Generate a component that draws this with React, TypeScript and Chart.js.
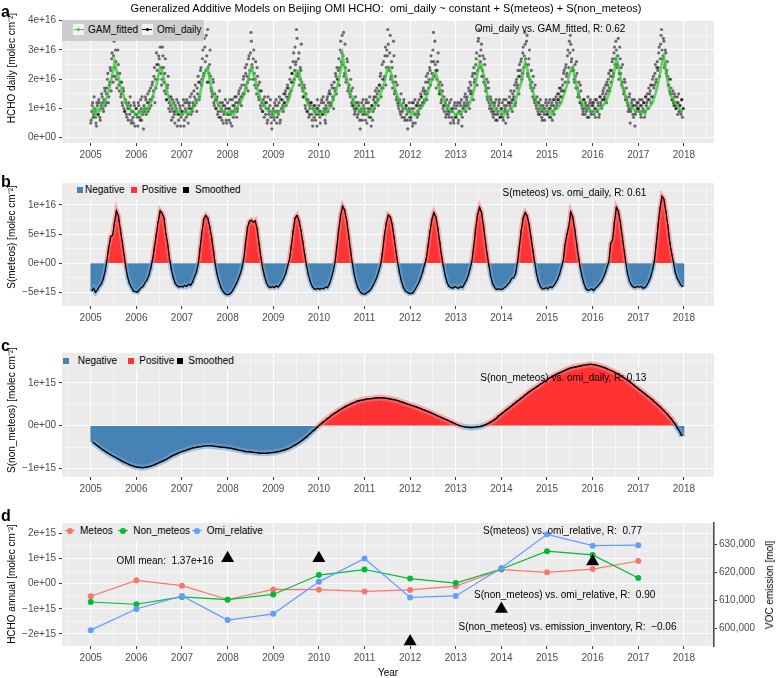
import React, { useEffect, useRef } from "react";
import { Chart, registerables } from "chart.js";
Chart.register(...registerables);

const FONT = '"Liberation Sans", Arial, Helvetica, sans-serif';

// ---------- shared axis data ----------
const years = [2005, 2006, 2007, 2008, 2009, 2010, 2011, 2012, 2013, 2014, 2015, 2016, 2017];
const xTickYears = [2005, 2006, 2007, 2008, 2009, 2010, 2011, 2012, 2013, 2014, 2015, 2016, 2017, 2018];
const xMinorTicks = [2004.5, 2005.5, 2006.5, 2007.5, 2008.5, 2009.5, 2010.5, 2011.5, 2012.5, 2013.5, 2014.5, 2015.5, 2016.5, 2017.5, 2018.5];

// ---------- panel a (units of 1e15 molec cm-2) ----------
// Omi_daily: two interleaved sets of 48 samples per year
const omiDaily = [
  [6,11,7,14, 9,5,12,8, 13,7,10,15, 12,9,17,11, 15,20,12,18, 24,16,29,19, 33,21,26,17, 30,18,22,14, 19,11,16,9, 13,8,11,6, 10,14,5,9, 7,12,4,10],
  [8,4,11,7, 13,6,9,3, 10,14,8,12, 9,16,13,11, 18,14,21,12, 17,25,20,28, 35,22,18,31, 24,16,27,13, 17,21,12,9, 14,10,7,12, 5,9,13,8, 6,11,4,9],
  [9,13,6,10, 7,12,5,11, 14,8,10,12, 16,11,13,9, 15,19,14,23, 18,27,21,34, 26,35,19,24, 22,30,17,14, 20,12,15,10, 13,8,11,16, 7,10,12,5, 9,13,6,8],
  [10,6,13,8, 4,11,9,14, 12,7,10,15, 13,17,11,14, 20,15,24,17, 21,16,28,23, 36,25,20,30, 18,26,15,21, 14,19,11,16, 9,13,7,12, 10,5,14,8, 11,7,3,9],
  [7,12,9,5, 11,8,14,6, 10,13,9,12, 15,11,17,13, 14,20,16,22, 19,29,23,25, 37,21,27,18, 24,32,17,14, 18,11,15,9, 13,7,10,12, 8,4,11,9, 6,10,13,8],
  [9,5,12,8, 14,10,6,11, 13,9,15,11, 12,18,14,10, 17,22,15,20, 23,18,30,26, 35,28,21,32, 19,27,16,23, 15,20,12,17, 11,8,14,10, 7,12,9,3, 10,6,13,9],
  [8,12,5,10, 9,14,7,11, 6,13,10,16, 12,15,11,18, 21,14,25,17, 20,28,18,30, 37,24,29,20, 26,17,33,15, 21,13,18,11, 12,9,15,7, 10,13,6,11, 8,3,10,7],
  [6,10,4,12, 8,5,11,7, 9,13,10,14, 11,16,12,15, 19,13,22,17, 24,18,26,20, 36,21,25,17, 23,29,15,19, 12,18,10,14, 11,7,13,9, 8,12,5,10, 9,6,11,7],
  [7,11,5,9, 12,8,4,10, 11,14,9,13, 12,17,10,15, 16,21,13,19, 22,27,18,33, 37,24,30,21, 28,19,25,16, 20,13,17,10, 14,9,12,7, 11,8,13,6, 9,12,7,10],
  [10,7,13,9, 5,11,8,12, 14,10,12,9, 13,16,11,19, 17,23,15,21, 26,20,29,24, 36,27,33,22, 25,30,18,23, 16,21,13,18, 11,14,9,12, 8,11,7,10, 9,6,12,8],
  [9,12,7,10, 11,6,13,8, 10,14,11,13, 15,12,17,14, 18,22,16,24, 21,28,19,33, 35,26,23,30, 20,25,17,22, 14,19,12,16, 11,8,13,10, 12,9,7,11, 10,13,8,12],
  [11,8,13,10, 9,12,7,14, 12,10,15,13, 14,18,12,16, 20,17,23,19, 26,21,29,25, 33,24,28,20, 31,22,18,25, 15,20,13,17, 12,9,14,5, 10,13,8,11, 4,9,12,10],
  [10,13,8,11, 9,12,7,14, 11,15,10,13, 16,12,18,14, 17,22,19,24, 23,29,21,32, 37,27,34,24, 30,22,26,18, 20,15,17,13, 16,11,14,10, 12,8,15,11, 9,13,7,10],
];
const omiDailyB = [
  [5,9,12,8, 10,7,4,11, 8,12,6,11, 14,10,13,16, 12,17,22,14, 19,23,27,21, 28,24,30,20, 22,25,16,19, 15,12,17,10, 9,12,7,10, 12,8,11,6, 9,5,11,8],
  [10,7,12,9, 6,10,14,8, 11,9,13,10, 15,12,10,17, 13,19,16,24, 20,29,23,25, 27,31,24,20, 28,19,22,15, 13,18,10,14, 11,6,13,9, 8,11,10,4, 12,8,10,7],
  [8,11,4,12, 9,13,8,10, 12,10,15,9, 11,14,18,12, 17,21,13,19, 24,20,30,22, 31,23,28,37, 19,25,21,16, 15,19,11,13, 10,14,9,7, 12,9,6,11, 8,11,10,5],
  [12,8,10,5, 9,13,7,11, 10,14,9,12, 16,12,14,18, 15,21,18,22, 25,19,27,20, 29,33,24,27, 22,20,17,24, 18,13,16,10, 12,9,11,14, 8,12,6,10, 9,13,5,8],
  [10,6,11,13, 7,9,12,5, 13,10,11,15, 12,16,14,18, 17,15,24,19, 22,26,20,31, 26,34,22,29, 20,23,19,16, 14,17,10,13, 9,12,8,11, 12,6,10,7, 11,8,4,10],
  [11,7,9,13, 8,12,9,5, 10,14,12,16, 15,11,17,13, 19,16,21,24, 20,27,24,33, 29,25,36,22, 24,20,26,17, 18,14,16,11, 13,10,9,12, 10,8,11,6, 9,12,8,11],
  [10,6,13,8, 12,7,10,4, 11,9,14,12, 14,17,13,16, 18,22,17,20, 26,21,31,24, 28,32,23,35, 21,24,19,28, 16,19,14,12, 10,13,8,11, 9,12,7,10, 11,6,9,12],
  [9,7,12,5, 10,13,8,11, 12,8,11,15, 14,12,17,13, 16,21,15,19, 20,23,28,22, 30,26,33,23, 20,26,18,16, 15,13,16,11, 9,12,8,10, 11,7,9,13, 7,10,5,12],
  [10,8,12,6, 9,11,13,7, 10,12,15,11, 14,11,16,19, 18,15,22,24, 20,25,29,23, 34,28,26,32, 23,21,27,18, 17,14,19,12, 11,13,10,8, 9,12,6,10, 8,11,13,7],
  [8,12,6,11, 10,13,9,7, 12,11,16,13, 15,14,18,12, 20,18,21,25, 23,27,22,31, 28,32,25,35, 21,27,20,17, 19,14,17,12, 13,10,12,8, 10,13,9,6, 11,8,10,13],
  [11,8,10,13, 7,12,9,11, 13,10,12,15, 13,17,14,16, 20,16,23,19, 25,22,30,24, 29,32,27,24, 23,19,21,26, 17,15,14,18, 12,10,9,13, 8,11,10,14, 7,12,9,11],
  [9,12,10,7, 13,9,11,8, 14,11,13,16, 17,13,15,19, 18,22,16,21, 23,27,22,31, 27,30,25,34, 22,27,24,19, 17,16,19,14, 13,11,10,15, 9,12,11,7, 13,8,11,10],
  [12,9,11,7, 13,10,12,9, 14,12,13,17, 15,18,14,20, 21,18,25,20, 26,24,31,27, 35,30,28,33, 25,29,23,21, 18,16,20,15, 13,12,15,11, 10,14,12,9, 11,8,13,10],
];
// GAM_fitted: 24 samples per year
const gamFitted = [
  [9,10,8,10,9,10,11,12,14,16,19,22,26,23,21,18,16,14,12,11,10,9,9,8],
  [8,9,8,9,10,9,11,12,14,16,18,21,24,23,20,18,15,13,12,11,10,9,9,8],
  [8,9,9,8,9,10,11,12,13,15,18,21,23,24,20,17,15,14,12,11,10,9,9,8],
  [9,8,9,8,10,11,12,13,15,17,19,22,24,22,20,17,15,13,12,11,10,9,9,9],
  [8,9,8,9,10,10,11,12,14,16,18,21,23,23,20,17,15,13,11,10,10,9,9,9],
  [8,9,9,8,10,10,11,13,15,17,20,23,28,24,21,18,15,14,12,11,10,9,10,9],
  [9,8,9,9,10,11,12,13,15,17,19,22,24,23,21,18,16,14,12,11,10,10,9,9],
  [8,9,8,9,10,10,11,12,14,16,18,20,22,22,20,17,15,13,12,10,10,9,9,8],
  [8,9,8,9,10,10,11,12,14,16,19,22,26,25,22,18,15,13,12,11,10,9,9,9],
  [9,8,9,9,10,10,11,13,15,17,19,22,26,24,21,18,16,14,12,11,10,10,9,9],
  [9,9,8,9,10,10,11,12,14,16,18,21,23,24,21,18,15,13,12,11,10,10,9,9],
  [9,9,9,10,10,11,12,13,15,17,20,23,27,25,21,18,16,14,12,11,10,10,9,9],
  [9,9,9,8,10,10,11,12,14,16,19,22,26,28,23,19,16,14,13,12,11,10,9,9],
];

// ---------- panel b: S(meteos), 24 samples per year ----------
const meteosDaily = [
  [-4.8,-4.3,-5.0,-4.6,-4.0,-3.6,-2.8,-1.5,0.5,2.8,4.6,4.8,7.0,9.0,8.2,6.0,3.8,1.5,-0.8,-2.5,-3.6,-4.2,-4.8,-4.9],
  [-5.0,-4.6,-4.2,-4.0,-3.4,-2.9,-2.2,-1.0,0.6,2.8,5.0,7.2,9.0,8.6,7.8,5.2,3.2,0.6,-1.2,-2.6,-3.5,-3.9,-4.1,-4.0],
  [-4.1,-3.8,-4.0,-3.6,-3.8,-3.3,-2.4,-1.6,-0.2,2.6,5.4,7.6,8.2,7.8,6.4,4.6,2.2,-0.2,-2.0,-3.2,-4.2,-4.8,-5.2,-5.4],
  [-5.4,-5.2,-4.8,-4.2,-3.6,-2.8,-2.0,-0.9,0.8,3.6,6.2,7.2,7.4,7.0,7.3,6.0,3.4,1.0,-1.0,-2.4,-3.4,-4.0,-4.2,-4.0],
  [-4.2,-3.9,-4.1,-3.7,-3.2,-2.6,-1.8,-0.6,0.6,3.0,5.6,7.8,8.2,7.4,5.8,3.8,1.6,-0.4,-2.0,-3.2,-4.0,-4.4,-4.5,-4.3],
  [-4.5,-4.3,-4.4,-4.1,-4.2,-3.6,-2.6,-1.4,0.2,3.0,6.0,8.4,9.8,9.2,7.6,5.2,2.6,0.2,-1.8,-3.2,-4.2,-4.8,-5.2,-5.3],
  [-5.3,-5.0,-4.8,-4.4,-3.8,-3.2,-2.4,-1.4,-0.2,2.0,4.8,7.0,8.3,8.0,6.8,4.6,2.2,0.0,-1.8,-3.2,-4.2,-4.8,-5.0,-5.2],
  [-5.2,-5.1,-4.6,-4.0,-3.4,-2.6,-1.6,-0.4,0.8,3.2,5.6,7.6,8.7,8.0,6.2,3.8,1.4,-0.6,-2.2,-3.4,-4.0,-4.2,-4.3,-4.0],
  [-4.2,-4.3,-4.0,-4.2,-3.6,-3.0,-2.2,-1.0,0.4,3.0,6.0,8.4,9.6,8.8,6.6,4.0,1.6,-0.6,-2.4,-3.6,-4.2,-4.5,-4.4,-4.5],
  [-4.5,-4.2,-4.0,-3.6,-3.2,-2.6,-2.5,-1.8,0.2,3.0,5.8,7.8,8.7,8.2,6.8,4.6,2.4,0.2,-1.8,-3.2,-4.0,-4.4,-4.4,-4.2],
  [-4.4,-4.0,-4.2,-3.9,-3.4,-2.8,-2.0,-0.8,0.4,3.2,5.0,6.4,8.8,8.0,6.0,3.6,1.2,-0.8,-2.4,-3.6,-4.4,-4.7,-4.6,-4.4],
  [-4.7,-4.3,-4.0,-3.6,-3.2,-2.6,-1.8,-0.8,0.2,3.4,4.0,7.2,9.6,9.0,7.2,4.8,2.4,0.0,-2.0,-3.2,-3.8,-4.1,-4.2,-4.0],
  [-4.1,-4.0,-4.3,-4.2,-3.8,-3.2,-2.4,-1.2,0.4,3.4,6.8,9.6,11.5,11.0,9.0,6.6,3.8,1.8,0.2,-1.6,-2.6,-3.2,-3.8,-4.0],
];

// ---------- panel c: S(non_meteos), 12 samples per year ----------
const nonMeteosDaily = [
  [-0.38,-0.45,-0.52,-0.58,-0.64,-0.69,-0.74,-0.79,-0.84,-0.88,-0.92,-0.95],
  [-0.97,-0.98,-0.97,-0.95,-0.92,-0.88,-0.84,-0.80,-0.75,-0.70,-0.66,-0.62],
  [-0.59,-0.56,-0.53,-0.51,-0.49,-0.48,-0.47,-0.47,-0.48,-0.49,-0.50,-0.51],
  [-0.52,-0.54,-0.56,-0.58,-0.60,-0.61,-0.62,-0.63,-0.64,-0.64,-0.64,-0.63],
  [-0.62,-0.60,-0.58,-0.55,-0.51,-0.46,-0.41,-0.35,-0.28,-0.20,-0.12,-0.04],
  [0.04,0.11,0.18,0.25,0.31,0.37,0.42,0.47,0.51,0.55,0.58,0.60],
  [0.62,0.63,0.64,0.65,0.65,0.64,0.63,0.61,0.59,0.56,0.53,0.50],
  [0.47,0.44,0.41,0.37,0.34,0.30,0.26,0.22,0.18,0.14,0.10,0.06],
  [0.02,-0.01,-0.03,-0.04,-0.04,-0.03,-0.02,0.01,0.05,0.10,0.16,0.24],
  [0.31,0.38,0.45,0.52,0.59,0.66,0.73,0.80,0.86,0.92,0.98,1.04],
  [1.10,1.15,1.20,1.24,1.28,1.32,1.35,1.37,1.39,1.41,1.42,1.43],
  [1.42,1.40,1.37,1.34,1.30,1.26,1.21,1.16,1.10,1.04,0.97,0.90],
  [0.83,0.76,0.69,0.62,0.54,0.46,0.37,0.28,0.18,0.06,-0.08,-0.24],
];

// ---------- panel d: annual values (units of 1e15) ----------
const meteosAnnual = [-0.5, 0.13, -0.08, -0.63, -0.23, -0.24, -0.31, -0.25, -0.1, 0.56, 0.45, 0.58, 0.9];
const nonMeteosAnnual = [-0.73, -0.82, -0.53, -0.64, -0.43, 0.34, 0.56, 0.2, 0.02, 0.58, 1.29, 1.14, 0.22];
const omiRelative = [-1.85, -1.01, -0.49, -1.45, -1.2, 0.07, 1.0, -0.55, -0.49, 0.62, 1.96, 1.51, 1.53];
const inventoryYears = [2008, 2010, 2012, 2014, 2016];
const vocEmission = [625000, 625000, 595500, 607000, 623800];

// ---------- tick labels ----------
const aYTicks = [0, 10, 20, 30, 40];
const aYLabels = ["0e+00", "1e+16", "2e+16", "3e+16", "4e+16"];
const aYMinor = [5, 15, 25, 35];
const bYTicks = [-5, 0, 5, 10];
const bYLabels = ["\u22125e+15", "0e+00", "5e+15", "1e+16"];
const bYMinor = [-2.5, 2.5, 7.5, 12.5];
const cYTicks = [-1, 0, 1];
const cYLabels = ["\u22121e+15", "0e+00", "1e+15"];
const cYMinor = [-0.5, 0.5, 1.5];
const dYTicks = [-2, -1, 0, 1, 2];
const dYLabels = ["\u22122e+15", "\u22121e+15", "0e+00", "1e+15", "2e+15"];
const dYMinor = [-1.5, -0.5, 0.5, 1.5];
const dY2Ticks = [600000, 610000, 620000, 630000];
const dY2Labels = ["600,000", "610,000", "620,000", "630,000"];

const RED = "#FF3333";
const BLUE = "#4682B4";
const PINK = "rgba(255,120,120,0.55)";
const LIGHTBLUE = "rgba(120,165,210,0.6)";

function toPoints(byYear: number[][], n: number, shift = 0.5) {
  return years.flatMap((yr, k) => byYear[k].map((v, i) => ({ x: yr + (i + shift) / n, y: v })));
}

const panelBg = {
  id: "panelBg",
  beforeDraw(chart: any) {
    const a = chart.chartArea;
    if (!a) return;
    const c = chart.ctx;
    c.save();
    c.fillStyle = "#EBEBEB";
    c.fillRect(a.left, a.top, a.right - a.left, a.bottom - a.top);
    c.restore();
  },
};

function scaleAxis(major: number[], labels: string[], minor: number[], min: number, max: number, horizontal: boolean): any {
  const all = [...major, ...minor].sort((p, q) => p - q);
  return {
    type: "linear",
    min,
    max,
    offset: false,
    afterBuildTicks: (s: any) => {
      s.ticks = all.map((v) => ({ value: v }));
    },
    afterFit: (s: any) => {
      if (horizontal) s.height = 22;
      else s.width = 62;
    },
    ticks: {
      autoSkip: false,
      maxRotation: 0,
      minRotation: 0,
      color: "#4D4D4D",
      font: { family: FONT, size: 10 },
      padding: 3,
      callback: (v: any) => {
        const i = major.indexOf(v);
        return i >= 0 ? labels[i] : "";
      },
    },
    grid: {
      offset: false,
      color: "#FFFFFF",
      lineWidth: (c: any) => (c.tick && major.includes(c.tick.value) ? 1.1 : 0.5),
      tickColor: (c: any) => (c.tick && major.includes(c.tick.value) ? "#333333" : "rgba(0,0,0,0)"),
      tickLength: 3,
      tickWidth: 1,
    },
    border: { display: false },
  };
}

function xAxis() {
  return scaleAxis(xTickYears, xTickYears.map(String), xMinorTicks, 2004.37, 2018.66, true);
}

const basePlugins = { legend: { display: false }, tooltip: { enabled: false } };

function commonOptions(padTop: number, padRight: number, scales: any): any {
  return {
    responsive: false,
    animation: false,
    devicePixelRatio: 1,
    events: [],
    layout: { padding: { top: padTop, right: padRight, bottom: 0, left: 0 } },
    plugins: basePlugins,
    scales,
  };
}

function signSegment(c: any) {
  return (c.p0.parsed.y + c.p1.parsed.y) / 2 >= 0 ? PINK : LIGHTBLUE;
}

const T = (p: any) => {
  const { x, y, size = 10, color = "#000", align = "center", rotate = 0, bold = false, children } = p;
  const tr = align === "center" ? `translate(-50%,-50%) rotate(${rotate}deg)` : "translate(0,-50%)";
  return (
    <div
      style={{
        position: "absolute",
        left: x,
        top: y,
        transform: tr,
        fontSize: size,
        lineHeight: 1,
        color,
        fontWeight: bold ? 700 : 400,
        whiteSpace: "pre",
        fontFamily: FONT,
      }}
    >
      {children}
    </div>
  );
};

const Letter = ({ x, baseline, children }: any) => (
  <div style={{ position: "absolute", left: x, top: baseline - 13.5, fontSize: 16, lineHeight: "16px", fontWeight: 700, fontFamily: FONT }}>
    {children}
  </div>
);

const Box = ({ x, y, w, h, bg }: any) => (
  <div style={{ position: "absolute", left: x, top: y, width: w, height: h, background: bg }} />
);

const LineKey = ({ cx, cy, color, bg, r = 1.5, lw = 1.2, len = 10 }: any) => (
  <>
    {bg ? <Box x={cx - 5.5} y={cy - 5.5} w={11} h={11} bg={bg} /> : null}
    <div style={{ position: "absolute", left: cx - len / 2, top: cy - lw / 2, width: len, height: lw, background: color }} />
    <div style={{ position: "absolute", left: cx - r, top: cy - r, width: 2 * r, height: 2 * r, borderRadius: "50%", background: color }} />
  </>
);

export default function App() {
  const aRef = useRef<HTMLCanvasElement>(null);
  const bRef = useRef<HTMLCanvasElement>(null);
  const cRef = useRef<HTMLCanvasElement>(null);
  const dRef = useRef<HTMLCanvasElement>(null);

  useEffect(() => {
    const charts: Chart[] = [];

    // panel a
    charts.push(
      new Chart(aRef.current as HTMLCanvasElement, {
        type: "scatter",
        data: {
          datasets: [
            {
              label: "GAM_fitted",
              data: toPoints(gamFitted, 24),
              showLine: true,
              borderColor: "rgba(50,200,50,0.75)",
              borderWidth: 2.6,
              pointRadius: 0,
            } as any,
            {
              label: "Omi_daily",
              data: [...toPoints(omiDaily, 48, 0.5), ...toPoints(omiDailyB, 48, 0)],
              pointRadius: 1.6,
              pointBorderWidth: 0,
              pointBackgroundColor: "rgba(0,0,0,0.55)",
            } as any,
          ],
        },
        options: commonOptions(20, 62, {
          x: xAxis(),
          y: scaleAxis(aYTicks, aYLabels, aYMinor, -1.8, 40.25, false),
        }),
        plugins: [panelBg],
      })
    );

    // panel b
    const meteosPts = toPoints(meteosDaily, 24);
    charts.push(
      new Chart(bRef.current as HTMLCanvasElement, {
        type: "bar",
        data: {
          datasets: [
            { type: "line", label: "Smoothed", data: meteosPts, borderColor: "#000", borderWidth: 1.3, pointRadius: 0, tension: 0 } as any,
            { type: "line", label: "band", data: meteosPts, borderColor: PINK, borderWidth: 5, pointRadius: 0, tension: 0, segment: { borderColor: signSegment } } as any,
            {
              type: "bar",
              label: "S(meteos)",
              data: meteosPts,
              backgroundColor: (c: any) => ((c.parsed && c.parsed.y) >= 0 ? RED : BLUE),
              borderWidth: 0,
              barPercentage: 1,
              categoryPercentage: 1,
            } as any,
          ],
        },
        options: commonOptions(13, 62, {
          x: xAxis(),
          y: scaleAxis(bYTicks, bYLabels, bYMinor, -7.35, 13.77, false),
        }),
        plugins: [panelBg],
      })
    );

    // panel c
    const nonPts = toPoints(nonMeteosDaily, 12);
    charts.push(
      new Chart(cRef.current as HTMLCanvasElement, {
        type: "bar",
        data: {
          datasets: [
            { type: "line", label: "Smoothed", data: nonPts, borderColor: "#000", borderWidth: 1.5, pointRadius: 0, tension: 0.3 } as any,
            { type: "line", label: "band", data: nonPts, borderColor: PINK, borderWidth: 6, pointRadius: 0, tension: 0.3, segment: { borderColor: signSegment } } as any,
            {
              type: "bar",
              label: "S(non_meteos)",
              data: nonPts,
              backgroundColor: (c: any) => ((c.parsed && c.parsed.y) >= 0 ? RED : BLUE),
              borderWidth: 0,
              barPercentage: 1,
              categoryPercentage: 1,
            } as any,
          ],
        },
        options: commonOptions(13.3, 62, {
          x: xAxis(),
          y: scaleAxis(cYTicks, cYLabels, cYMinor, -1.196, 1.687, false),
        }),
        plugins: [panelBg],
      })
    );

    // panel d
    const y2 = {
      type: "linear",
      position: "right",
      min: 593870,
      max: 637450,
      afterBuildTicks: (s: any) => {
        s.ticks = dY2Ticks.map((v) => ({ value: v }));
      },
      afterFit: (s: any) => {
        s.width = 62;
      },
      ticks: {
        autoSkip: false,
        color: "#4D4D4D",
        font: { family: FONT, size: 10 },
        padding: 2,
        callback: (v: any) => {
          const i = dY2Ticks.indexOf(v);
          return i >= 0 ? dY2Labels[i] : "";
        },
      },
      grid: { drawOnChartArea: false, tickColor: "#333333", tickLength: 3, tickWidth: 1 },
      border: { display: true, color: "#4D4D4D", width: 1.6 },
    };
    const lineDs = (label: string, vals: number[], color: string) =>
      ({
        label,
        data: years.map((yr, i) => ({ x: yr, y: vals[i] })),
        borderColor: color,
        backgroundColor: color,
        borderWidth: 1.2,
        pointRadius: 3,
        pointBorderWidth: 0,
        pointBackgroundColor: color,
        tension: 0,
        yAxisID: "y",
      } as any);
    charts.push(
      new Chart(dRef.current as HTMLCanvasElement, {
        type: "line",
        data: {
          datasets: [
            {
              label: "emission_inventory",
              data: inventoryYears.map((yr, i) => ({ x: yr, y: vocEmission[i] })),
              showLine: false,
              pointStyle: "triangle",
              pointRadius: 7.5,
              pointBorderWidth: 0,
              pointBackgroundColor: "#000",
              backgroundColor: "#000",
              borderColor: "#000",
              yAxisID: "y2",
            } as any,
            lineDs("Omi_relative", omiRelative, "#619CFF"),
            lineDs("Non_meteos", nonMeteosAnnual, "#00BA38"),
            lineDs("Meteos", meteosAnnual, "#F8766D"),
          ],
        },
        options: commonOptions(18, 0, {
          x: xAxis(),
          y: scaleAxis(dYTicks, dYLabels, dYMinor, -2.48, 2.41, false),
          y2,
        }),
        plugins: [panelBg],
      })
    );

    return () => charts.forEach((c) => c.destroy());
  }, []);

  const cv = (top: number, h: number, ref: any) => (
    <canvas ref={ref} width={776} height={h} style={{ position: "absolute", left: 0, top, width: 776, height: h }} />
  );

  return (
    <div style={{ position: "absolute", left: 0, top: 0, width: 776, height: 678, background: "#fff", fontFamily: FONT, overflow: "hidden" }}>
      {cv(0, 165, aRef)}
      {cv(170, 158, bRef)}
      {cv(340, 159, cRef)}
      {cv(505, 163, dRef)}

      <T x={386} y={8} size={11}>Generalized Additive Models on Beijing OMI HCHO:  omi_daily ~ constant + S(meteos) + S(non_meteos)</T>

      <Letter x={1} baseline={17}>a</Letter>
      <Letter x={1} baseline={187}>b</Letter>
      <Letter x={1} baseline={351}>c</Letter>
      <Letter x={1} baseline={521.5}>d</Letter>

      <T x={12} y={68} rotate={-90}>HCHO daily [molec cm⁻²]</T>
      <T x={12} y={237} rotate={-90}>S(meteos) [molec cm⁻²]</T>
      <T x={12} y={410} rotate={-90}>S(non_meteos) [molec cm⁻²]</T>
      <T x={12} y={583.5} rotate={-90}>HCHO annual [molec cm⁻²]</T>
      <T x={770} y={585} rotate={-90}>VOC emission [mol]</T>
      <T x={388} y={673}>Year</T>

      {/* legend a */}
      <Box x={62} y={20} w={142} h={21} bg="#CDCDCD" />
      <LineKey cx={78.5} cy={29.5} color="#3CCB3C" bg="#F2F2F2" />
      <T x={88} y={29.5} align="left">GAM_fitted</T>
      <LineKey cx={147} cy={29.5} color="#000" bg="#F2F2F2" />
      <T x={157} y={29.5} align="left">Omi_daily</T>
      <T x={550} y={28.5}>Omi_daily vs. GAM_fitted, R: 0.62</T>

      {/* legend b */}
      <Box x={62} y={183} w={186} h={17} bg="#EBEBEB" />
      <Box x={76.5} y={186.7} w={6} h={6} bg={BLUE} />
      <T x={85} y={189.7} align="left">Negative</T>
      <Box x={131} y={186.7} w={6} h={6} bg={RED} />
      <T x={141.7} y={189.7} align="left">Positive</T>
      <Box x={183.3} y={186.7} w={6} h={6} bg="#000" />
      <T x={195} y={189.7} align="left">Smoothed</T>
      <T x={574.5} y={192.7}>S(meteos) vs. omi_daily, R: 0.61</T>

      {/* legend c */}
      <Box x={62} y={353.3} w={178} h={17} bg="#EBEBEB" />
      <Box x={63.3} y={357.7} w={6} h={6} bg={BLUE} />
      <T x={77.7} y={360.7} align="left">Negative</T>
      <Box x={127.7} y={357.7} w={6} h={6} bg={RED} />
      <T x={139.3} y={360.7} align="left">Positive</T>
      <Box x={176.7} y={357.7} w={6} h={6} bg="#000" />
      <T x={188.3} y={360.7} align="left">Smoothed</T>
      <T x={563.3} y={378.3}>S(non_meteos) vs. omi_daily, R: 0.13</T>

      {/* legend d */}
      <Box x={62} y={523} w={203} h={18} bg="#EBEBEB" />
      <LineKey cx={70} cy={530.7} color="#F8766D" r={3} />
      <T x={80} y={530.7} align="left">Meteos</T>
      <LineKey cx={123.3} cy={530.7} color="#00BA38" r={3} />
      <T x={133.3} y={530.7} align="left">Non_meteos</T>
      <LineKey cx={196.7} cy={530.7} color="#619CFF" r={3} />
      <T x={206.7} y={530.7} align="left">Omi_relative</T>

      <T x={165} y={560.7}>OMI mean:  1.37e+16</T>
      <T x={562.5} y={530.7}>S(meteos) vs. omi_relative, R:  0.77</T>
      <T x={564.7} y={595.3}>S(non_meteos) vs. omi_relative, R:  0.90</T>
      <T x={567.5} y={626.7}>S(non_meteos) vs. emission_inventory, R:  {"\u2212"}0.06</T>
    </div>
  );
}
